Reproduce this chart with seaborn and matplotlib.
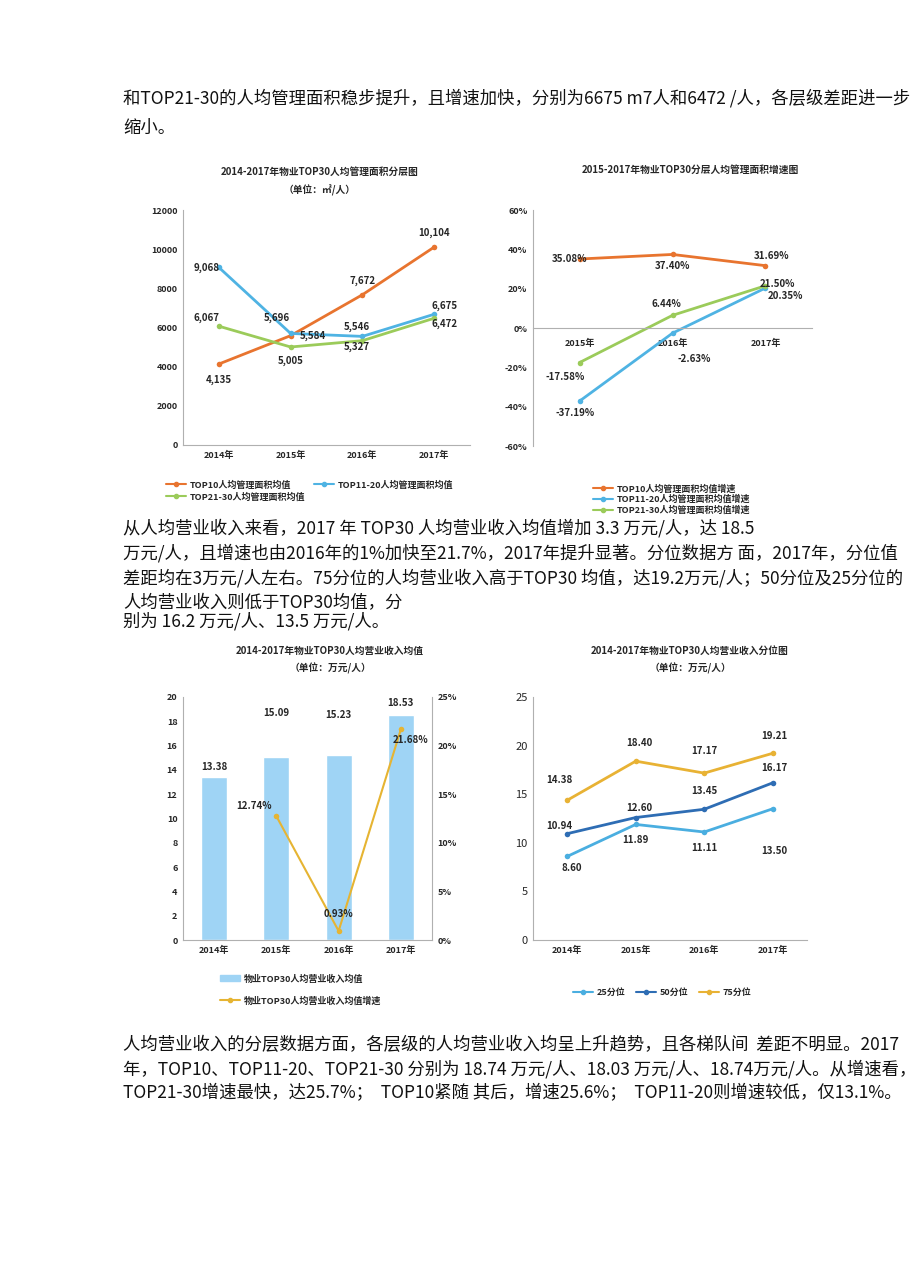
import pandas as pd
import matplotlib.pyplot as plt
import seaborn as sns

# 1. DATA
years4 = ["2014年", "2015年", "2016年", "2017年"]
years3 = ["2015年", "2016年", "2017年"]

area_series = ["TOP10人均管理面积均值", "TOP11-20人均管理面积均值", "TOP21-30人均管理面积均值"]
area_top10 = [4135, 5584, 7672, 10104]
area_top11_20 = [9068, 5696, 5546, 6675]
area_top21_30 = [6067, 5005, 5327, 6472]

growth_series = ["TOP10人均管理面积均值增速", "TOP11-20人均管理面积均值增速", "TOP21-30人均管理面积均值增速"]
growth_top10 = [35.08, 37.40, 31.69]
growth_top11_20 = [-37.19, -2.63, 20.35]
growth_top21_30 = [-17.58, 6.44, 21.50]

rev_mean = [13.38, 15.09, 15.23, 18.53]
rev_growth_years = ["2015年", "2016年", "2017年"]
rev_growth = [12.74, 0.93, 21.68]

pct_series = ["25分位", "50分位", "75分位"]
pct_25 = [8.60, 11.89, 11.11, 13.50]
pct_50 = [10.94, 12.60, 13.45, 16.17]
pct_75 = [14.38, 18.40, 17.17, 19.21]

para1 = ["和TOP21-30的人均管理面积稳步提升，且增速加快，分别为6675 m7人和6472 /人，各层级差距进一步",
         "缩小。"]
para2 = ["从人均营业收入来看，2017 年 TOP30 人均营业收入均值增加 3.3 万元/人，达 18.5",
         "万元/人，且增速也由2016年的1%加快至21.7%，2017年提升显著。分位数据方 面，2017年，分位值",
         "差距均在3万元/人左右。75分位的人均营业收入高于TOP30 均值，达19.2万元/人；50分位及25分位的",
         "人均营业收入则低于TOP30均值，分",
         "别为 16.2 万元/人、13.5 万元/人。"]
para3 = ["人均营业收入的分层数据方面，各层级的人均营业收入均呈上升趋势，且各梯队间  差距不明显。2017",
         "年，TOP10、TOP11-20、TOP21-30 分别为 18.74 万元/人、18.03 万元/人、18.74万元/人。从增速看，",
         "TOP21-30增速最快，达25.7%；  TOP10紧随 其后，增速25.6%；  TOP11-20则增速较低，仅13.1%。"]

# long tables for seaborn
area_df = pd.DataFrame({
    "year": years4 * 3,
    "value": area_top10 + area_top11_20 + area_top21_30,
    "series": [s for s in area_series for _ in years4],
})
growth_df = pd.DataFrame({
    "year": years3 * 3,
    "value": growth_top10 + growth_top11_20 + growth_top21_30,
    "series": [s for s in growth_series for _ in years3],
})
pct_df = pd.DataFrame({
    "year": years4 * 3,
    "value": pct_25 + pct_50 + pct_75,
    "series": [s for s in pct_series for _ in years4],
})

# 2. STYLE
sns.set_style("white")
plt.rcParams["font.family"] = ["Noto Sans CJK SC", "DejaVu Sans"]
plt.rcParams["axes.unicode_minus"] = False

W, H = 920, 1276
fig = plt.figure(figsize=(W / 100, H / 100), dpi=100)


def px_axes(l, r, t, b):
    return fig.add_axes([l / W, 1 - b / H, (r - l) / W, (b - t) / H])


def fig_text(x, y, s, **kw):
    fig.text(x / W, 1 - y / H, s, **kw)


def label(ax, x, y, s, dx, dy, size=7):
    ax.annotate(s, (x, y), xytext=(dx, -dy), textcoords="offset pixels",
                ha="center", va="center", fontsize=size, fontweight="bold")


def style_axes(ax):
    for sp in ["top", "right"]:
        ax.spines[sp].set_visible(False)
    for sp in ["left", "bottom"]:
        ax.spines[sp].set_color("#b0b0b0")
        ax.spines[sp].set_linewidth(0.8)
    ax.tick_params(length=0, labelsize=6.5, pad=4)
    ax.set_xlabel("")
    ax.set_ylabel("")


def bold_ticks(ax, which="both"):
    labels = []
    if which in ("both", "x"):
        labels += ax.get_xticklabels()
    if which in ("both", "y"):
        labels += ax.get_yticklabels()
    plt.setp(labels, fontweight="bold")


# body text
body = dict(fontsize=12.5, va="center", color="#111111")
for i, s in enumerate(para1):
    fig_text(123, [98, 128][i], s, **body)
for i, s in enumerate(para2):
    fig_text(123, [528, 553, 578, 603, 621][i], s, **body)
for i, s in enumerate(para3):
    fig_text(123, [1045, 1069, 1093][i], s, **body)

# chart titles
bold_small = dict(fontsize=7, fontweight="bold", ha="center", va="center")
fig_text(320, 172, "2014-2017年物业TOP30人均管理面积分层图", **bold_small)
fig_text(320, 190, "（单位：㎡/人）", **bold_small)
fig_text(690, 170, "2015-2017年物业TOP30分层人均管理面积增速图", **bold_small)
fig_text(330, 651, "2014-2017年物业TOP30人均营业收入均值", **bold_small)
fig_text(330, 668, "（单位：万元/人）", **bold_small)
fig_text(690, 651, "2014-2017年物业TOP30人均营业收入分位图", **bold_small)
fig_text(690, 668, "（单位：万元/人）", **bold_small)

leg_kw = dict(frameon=False, prop={"size": 6.5, "weight": "bold"}, handlelength=2.2,
              handletextpad=0.4)

# 3. CHART 1 - management area
ax1 = px_axes(183, 470, 210, 445)
area_colors = ["#E8742F", "#4FB3E3", "#9BCB5A"]
sns.lineplot(data=area_df, x="year", y="value", hue="series", palette=area_colors,
             marker="o", markersize=4, markeredgewidth=0, linewidth=2, sort=False,
             legend=False, ax=ax1)
ax1.set_xlim(-0.5, 3.5)
ax1.set_ylim(0, 12000)
ax1.set_yticks(range(0, 12001, 2000))
style_axes(ax1)
bold_ticks(ax1)
offs = {
    0: [(0, 16), (22, 0), (0, -14), (0, -14)],
    1: [(-12, 0), (-14, -16), (-6, -10), (10, -8)],
    2: [(-12, -8), (0, 14), (-6, 6), (10, 6)],
}
for k, vals in enumerate([area_top10, area_top11_20, area_top21_30]):
    for i, v in enumerate(vals):
        label(ax1, i, v, f"{v:,}", *offs[k][i])
h1 = [plt.Line2D([], [], color=c, marker="o", markersize=3, lw=1.5) for c in area_colors]
fig.legend([h1[0], h1[2], h1[1]], [area_series[0], area_series[2], area_series[1]],
           loc="upper left", bbox_to_anchor=(158 / W, 1 - 472 / H), ncol=2,
           columnspacing=1.0, labelspacing=0.3, **leg_kw)

# 4. CHART 2 - growth of management area
ax2 = px_axes(533, 812, 210, 446)
sns.lineplot(data=growth_df, x="year", y="value", hue="series", palette=area_colors,
             marker="o", markersize=4, markeredgewidth=0, linewidth=2, sort=False,
             legend=False, ax=ax2)
ax2.set_xlim(-0.5, 2.5)
ax2.set_ylim(-60, 60)
ax2.set_yticks(range(-60, 61, 20))
ax2.yaxis.set_major_formatter(plt.FuncFormatter(lambda v, p: f"{v:.0f}%"))
style_axes(ax2)
ax2.spines["bottom"].set_position(("data", 0))
ax2.tick_params(axis="x", pad=8)
ax2.set_xticks(range(len(years3)))
ax2.set_xticklabels(years3, fontweight="bold", fontsize=6.5)
bold_ticks(ax2, "y")
offs2 = {
    0: [(-10, 0), (0, 12), (6, -10)],
    1: [(-4, 12), (22, 26), (20, 8)],
    2: [(-14, 14), (-6, -11), (12, -2)],
}
for k, vals in enumerate([growth_top10, growth_top11_20, growth_top21_30]):
    for i, v in enumerate(vals):
        label(ax2, i, v, f"{v:.2f}%", *offs2[k][i])
fig.legend(h1, growth_series, loc="upper left", bbox_to_anchor=(585 / W, 1 - 476 / H),
           ncol=1, labelspacing=0.15, **leg_kw)

# 5. CHART 3 - mean revenue per person
ax3 = px_axes(183, 432, 697, 940)
sns.barplot(x=years4, y=rev_mean, color="#9FD4F5", saturation=1, width=0.42, ax=ax3)
ax3.set_xlim(-0.5, 3.5)
ax3.set_ylim(0, 20)
ax3.set_yticks(range(0, 21, 2))
style_axes(ax3)
bold_ticks(ax3)
bar_offs = [-10, -44, -40, -12]
for i, v in enumerate(rev_mean):
    label(ax3, i, v, f"{v:.2f}", 0, bar_offs[i])
ax3b = ax3.twinx()
growth_pos = [years4.index(y) for y in rev_growth_years]
sns.lineplot(x=growth_pos, y=rev_growth, color="#E6B432", marker="o", markersize=4,
             markeredgewidth=0, linewidth=1.5, ax=ax3b)
ax3b.set_ylim(0, 25)
ax3b.set_yticks(range(0, 26, 5))
ax3b.yaxis.set_major_formatter(plt.FuncFormatter(lambda v, p: f"{v:.0f}%"))
for sp in ["top", "left", "bottom"]:
    ax3b.spines[sp].set_visible(False)
ax3b.spines["right"].set_color("#b0b0b0")
ax3b.spines["right"].set_linewidth(0.8)
ax3b.tick_params(length=0, labelsize=6.5, pad=4)
bold_ticks(ax3b, "y")
g_offs = [(-22, -10), (0, -17), (10, 11)]
for i, v in enumerate(rev_growth):
    label(ax3b, growth_pos[i], v, f"{v:.2f}%", *g_offs[i])
h3 = [plt.Rectangle((0, 0), 1, 1, color="#9FD4F5"),
      plt.Line2D([], [], color="#E6B432", marker="o", markersize=3, lw=1.5)]
fig.legend(h3, ["物业TOP30人均营业收入均值", "物业TOP30人均营业收入均值增速"],
           loc="upper left", bbox_to_anchor=(212 / W, 1 - 966 / H), ncol=1,
           labelspacing=1.4, **leg_kw)

# 6. CHART 4 - revenue percentiles
ax4 = px_axes(533, 807, 697, 940)
pct_colors = ["#4AAEE0", "#2E6DB4", "#E8B234"]
sns.lineplot(data=pct_df, x="year", y="value", hue="series", palette=pct_colors,
             marker="o", markersize=4, markeredgewidth=0, linewidth=2, sort=False,
             legend=False, ax=ax4)
ax4.set_xlim(-0.5, 3.5)
ax4.set_ylim(0, 25)
ax4.set_yticks(range(0, 26, 5))
style_axes(ax4)
bold_ticks(ax4, "x")
plt.setp(ax4.get_yticklabels(), fontsize=8)
offs4 = {
    0: [(4, 12), (0, 16), (0, 16), (2, 42)],
    1: [(-8, -8), (4, -10), (0, -18), (2, -15)],
    2: [(-8, -20), (4, -18), (0, -22), (2, -17)],
}
for k, vals in enumerate([pct_25, pct_50, pct_75]):
    for i, v in enumerate(vals):
        label(ax4, i, v, f"{v:.2f}", *offs4[k][i])
h4 = [plt.Line2D([], [], color=c, marker="o", markersize=3, lw=1.5) for c in pct_colors]
fig.legend(h4, pct_series, loc="upper left", bbox_to_anchor=(565 / W, 1 - 980 / H),
           ncol=3, columnspacing=1.2, **leg_kw)

plt.savefig("out.png", dpi=100)
